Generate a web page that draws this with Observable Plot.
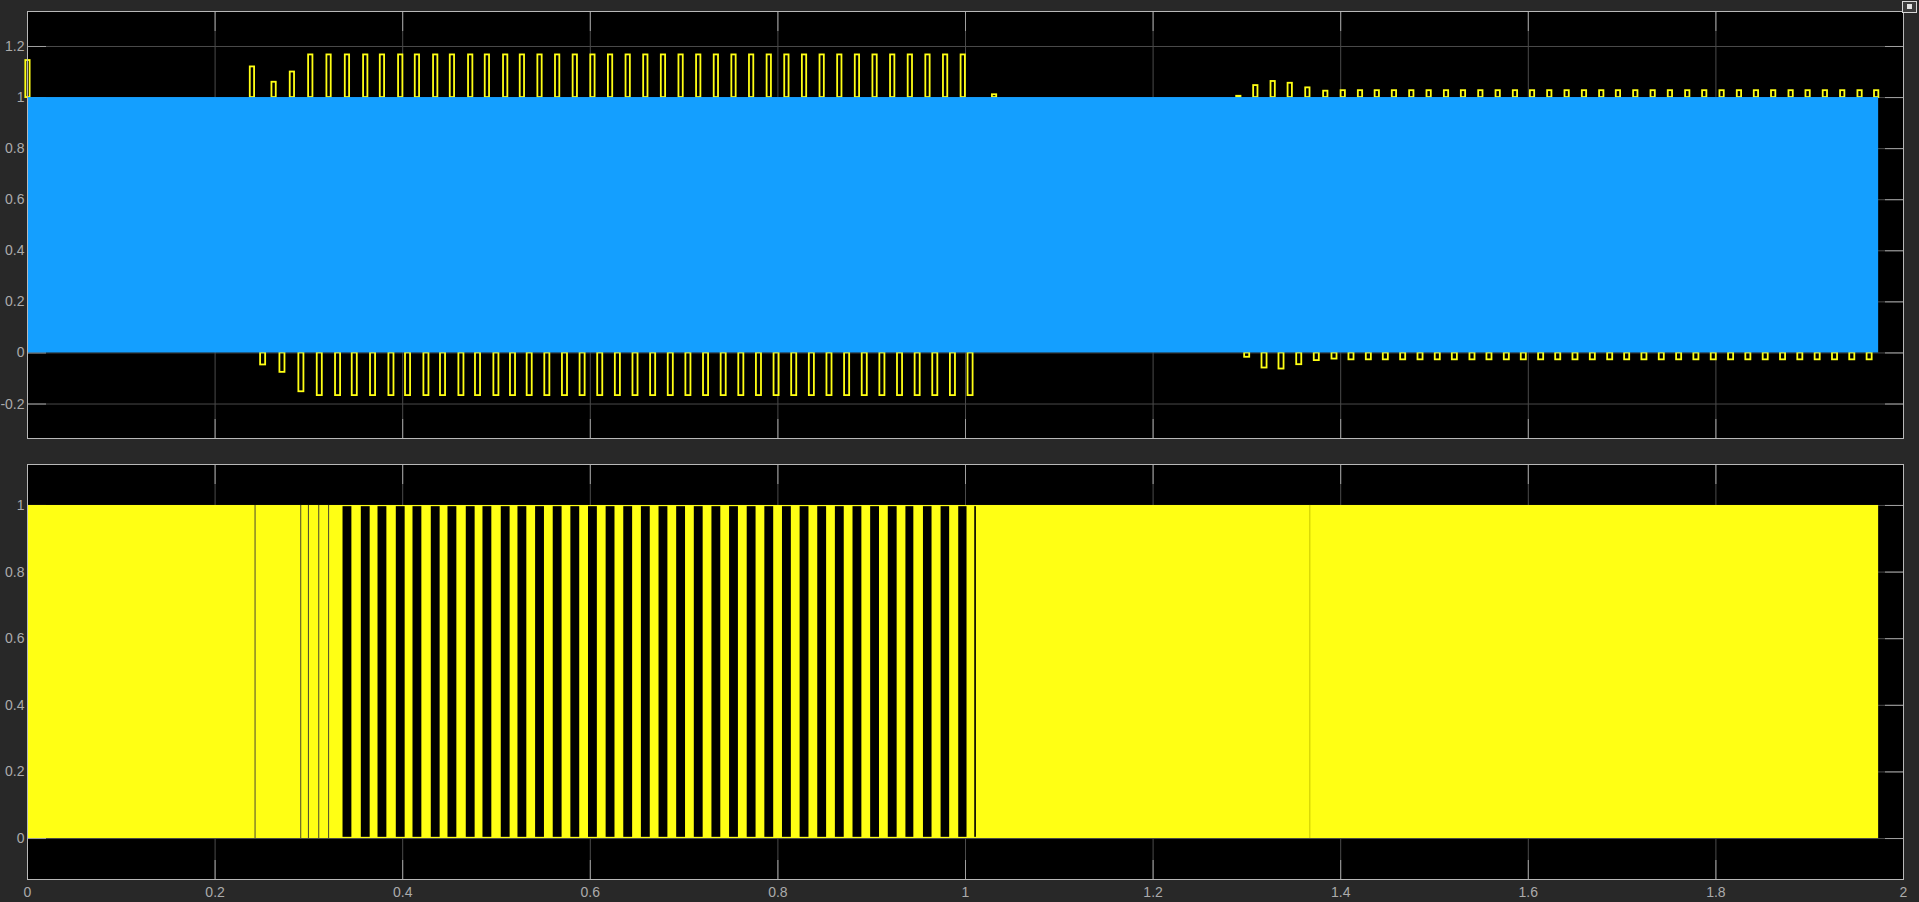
<!DOCTYPE html>
<html><head><meta charset="utf-8">
<script src="https://cdn.jsdelivr.net/npm/d3@7"></script>
<script src="https://cdn.jsdelivr.net/npm/@observablehq/plot@0.6"></script>
<style>
html,body{margin:0;padding:0;background:#282828;width:1919px;height:902px;overflow:hidden;}
#top,#bot{position:absolute;left:0;}
#top{top:0}
#bot{top:451px}
#btn{position:absolute;left:1902px;top:1px;width:13px;height:10px;border:1px solid #d8d8d8;background:#3c3c3c}
#btn:after{content:"";position:absolute;left:4px;top:2px;width:5px;height:5px;background:#e0e0e0}
</style></head><body>
<div id="top"></div><div id="bot"></div><div id="btn"></div>
<script>
// ---- axes ----
const xTicks = [0, 0.2, 0.4, 0.6, 0.8, 1, 1.2, 1.4, 1.6, 1.8, 2];
const topYTicks = [-0.2, 0, 0.2, 0.4, 0.6, 0.8, 1, 1.2];
const botYTicks = [0, 0.2, 0.4, 0.6, 0.8, 1];
const xDomain = [0, 2];
const topYDomain = [-0.335, 1.337];
const botYDomain = [-0.123, 1.123];

// ---- top panel: switching band (blue) ----
const bandStart = [0];
const bandEnd = [1.9735];
const bandLow = [0];
const bandHigh = [1];

// ---- top panel: yellow overshoots above 1 ----
const overTime = [0.0005, 0.2398, 0.2629, 0.2824, 0.3020, 0.3215, 0.3411, 0.3606, 0.3784, 0.3979,
  0.4157, 0.4352, 0.4530, 0.4725, 0.4903, 0.5098, 0.5276, 0.5464, 0.5652, 0.5840,
  0.6028, 0.6216, 0.6404, 0.6592, 0.6780, 0.6968, 0.7156, 0.7344, 0.7532, 0.7720,
  0.7908, 0.8096, 0.8284, 0.8472, 0.8660, 0.8848, 0.9036, 0.9224, 0.9412, 0.9600,
  0.9788, 0.9976, 1.0310,
  1.2914, 1.3095, 1.3280, 1.3462, 1.3650, 1.3841, 1.4027, 1.4211, 1.4390, 1.4573,
  1.4758, 1.4943, 1.5128, 1.5309, 1.5494, 1.5679, 1.5863, 1.6045, 1.6229, 1.6414,
  1.6599, 1.6783, 1.6961, 1.7146, 1.7331, 1.7515, 1.7700, 1.7881, 1.8066, 1.8251,
  1.8432, 1.8616, 1.8802, 1.8983, 1.9167, 1.9352, 1.9537, 1.9714];
const overPeak = [1.145, 1.12, 1.06, 1.10, 1.167, 1.167, 1.167, 1.167, 1.167, 1.167,
  1.167, 1.167, 1.167, 1.167, 1.167, 1.167, 1.167, 1.167, 1.167, 1.167,
  1.167, 1.167, 1.167, 1.167, 1.167, 1.167, 1.167, 1.167, 1.167, 1.167,
  1.167, 1.167, 1.167, 1.167, 1.167, 1.167, 1.167, 1.167, 1.167, 1.167,
  1.167, 1.167, 1.011,
  1.005, 1.047, 1.063, 1.056, 1.038, 1.025, 1.027, 1.027, 1.027, 1.027,
  1.027, 1.027, 1.027, 1.027, 1.027, 1.027, 1.027, 1.027, 1.027, 1.027,
  1.027, 1.027, 1.027, 1.027, 1.027, 1.027, 1.027, 1.027, 1.027, 1.027,
  1.027, 1.027, 1.027, 1.027, 1.027, 1.027, 1.027, 1.027];

// ---- top panel: yellow undershoots below 0 ----
const underTime = [0.2512, 0.2718, 0.2920, 0.3116, 0.3311, 0.3489, 0.3684, 0.3880, 0.4057, 0.4253,
  0.4430, 0.4626, 0.4803, 0.4999, 0.5176, 0.5354, 0.5542, 0.5730, 0.5918, 0.6106,
  0.6294, 0.6482, 0.6670, 0.6858, 0.7046, 0.7234, 0.7422, 0.7610, 0.7798, 0.7986,
  0.8174, 0.8362, 0.8550, 0.8738, 0.8926, 0.9114, 0.9302, 0.9490, 0.9678, 0.9866,
  1.0054,
  1.3003, 1.3188, 1.3369, 1.3558, 1.3745, 1.3934, 1.4115, 1.4300, 1.4481, 1.4666,
  1.4851, 1.5035, 1.5217, 1.5405, 1.5586, 1.5771, 1.5952, 1.6137, 1.6319, 1.6503,
  1.6688, 1.6873, 1.7054, 1.7238, 1.7423, 1.7608, 1.7792, 1.7977, 1.8162, 1.8346,
  1.8531, 1.8716, 1.8900, 1.9085, 1.9270, 1.9454, 1.9639];
const underDip = [-0.047, -0.076, -0.152, -0.167, -0.167, -0.167, -0.167, -0.167, -0.167, -0.167,
  -0.167, -0.167, -0.167, -0.167, -0.167, -0.167, -0.167, -0.167, -0.167, -0.167,
  -0.167, -0.167, -0.167, -0.167, -0.167, -0.167, -0.167, -0.167, -0.167, -0.167,
  -0.167, -0.167, -0.167, -0.167, -0.167, -0.167, -0.167, -0.167, -0.167, -0.167,
  -0.167,
  -0.017, -0.059, -0.063, -0.046, -0.030, -0.024, -0.027, -0.027, -0.027, -0.027,
  -0.027, -0.027, -0.027, -0.027, -0.027, -0.027, -0.027, -0.027, -0.027, -0.027,
  -0.027, -0.027, -0.027, -0.027, -0.027, -0.027, -0.027, -0.027, -0.027, -0.027,
  -0.027, -0.027, -0.027, -0.027, -0.027, -0.027, -0.027];

// ---- bottom panel: gate signal ----
const pulseStart = [0];
const pulseEnd = [1.9735];
const pulseLow = [0];
const pulseHigh = [1];
// intervals where the gate is held (black gaps)
const gapStart = [0.3351, 0.3546, 0.3724, 0.3919, 0.4097, 0.4292, 0.4470, 0.4665, 0.4843, 0.5038,
  0.5216, 0.5404, 0.5592, 0.5780, 0.5968, 0.6156, 0.6344, 0.6532, 0.6720, 0.6908,
  0.7096, 0.7284, 0.7472, 0.7660, 0.7848, 0.8036, 0.8224, 0.8412, 0.8600, 0.8788,
  0.8976, 0.9164, 0.9352, 0.9539, 0.9727, 0.9915, 1.0086];
const gapEnd = [0.3471, 0.3666, 0.3844, 0.4039, 0.4217, 0.4412, 0.4590, 0.4785, 0.4963, 0.5158,
  0.5336, 0.5524, 0.5712, 0.5900, 0.6088, 0.6276, 0.6464, 0.6652, 0.6840, 0.7028,
  0.7216, 0.7404, 0.7592, 0.7780, 0.7968, 0.8156, 0.8344, 0.8532, 0.8720, 0.8908,
  0.9096, 0.9284, 0.9462, 0.9656, 0.9844, 1.0029, 1.0129];
// single short switching events (thin lines)
const blipTime = [0.2426, 0.2913, 0.2995, 0.3105, 0.3210];
const faintTime = [1.3671];

// ---- styles ----
const YELLOW = "#ffff14";
const BLUE = "#149fff";
const GRID = "#4a4a4a";
const TICK = "#a0a0a0";
const FRAME = "#b8b8b8";
const LABEL = "#ababab";
const FONT = "'Liberation Sans', Arial, sans-serif";
const OVER_W = 0.0046, UNDER_W = 0.0054;

const idx = a => a.map((_, i) => i);

function frameMarks(yTicks, showX) {
  const m = [
    Plot.gridX(xTicks, {stroke: GRID, strokeOpacity: 1}),
    Plot.gridY(yTicks, {stroke: GRID, strokeOpacity: 1}),
    Plot.axisX(xTicks, {anchor: "bottom", tickSize: -19, stroke: TICK, tickFormat: () => "", label: null}),
    Plot.axisX(xTicks, {anchor: "top", tickSize: -19, stroke: TICK, tickFormat: () => "", label: null}),
    Plot.axisY(yTicks, {anchor: "left", tickSize: -19, stroke: TICK, tickFormat: () => "", label: null}),
    Plot.axisY(yTicks, {anchor: "right", tickSize: -19, stroke: TICK, tickFormat: () => "", label: null}),
    Plot.axisY(yTicks, {anchor: "left", tickSize: 0, tickPadding: 3, fill: LABEL, fontSize: 14, tickFormat: d => String(d), label: null})
  ];
  if (showX) m.push(Plot.axisX(xTicks, {anchor: "bottom", tickSize: 0, tickPadding: 8, fill: LABEL, fontSize: 14, tickFormat: d => String(d), label: null}));
  return m;
}

const topPlot = Plot.plot({
  width: 1919, height: 451,
  marginLeft: 27, marginRight: 16, marginTop: 11, marginBottom: 13,
  x: {domain: xDomain, axis: null},
  y: {domain: topYDomain, axis: null},
  style: {background: "#000", color: LABEL, fontFamily: FONT, fontSize: "14px", overflow: "visible"},
  marks: [
    ...frameMarks(topYTicks, false),
    Plot.rect(idx(overTime), {x1: i => overTime[i] - OVER_W / 2, x2: i => overTime[i] + OVER_W / 2,
      y1: () => 1, y2: i => overPeak[i], fill: "none", stroke: YELLOW, strokeWidth: 1.8}),
    Plot.rect(idx(underTime), {x1: i => underTime[i] - UNDER_W / 2, x2: i => underTime[i] + UNDER_W / 2,
      y1: () => 0, y2: i => underDip[i], fill: "none", stroke: YELLOW, strokeWidth: 1.8}),
    Plot.rect(idx(bandStart), {x1: i => bandStart[i], x2: i => bandEnd[i], y1: i => bandLow[i], y2: i => bandHigh[i], fill: BLUE}),
    Plot.frame({stroke: FRAME})
  ]
});

const botPlot = Plot.plot({
  width: 1919, height: 451,
  marginLeft: 27, marginRight: 16, marginTop: 13, marginBottom: 23,
  x: {domain: xDomain, axis: null},
  y: {domain: botYDomain, axis: null},
  style: {background: "#000", color: LABEL, fontFamily: FONT, fontSize: "14px", overflow: "visible"},
  marks: [
    ...frameMarks(botYTicks, true),
    Plot.rect(idx(pulseStart), {x1: i => pulseStart[i], x2: i => pulseEnd[i], y1: i => pulseLow[i], y2: i => pulseHigh[i], fill: YELLOW}),
    Plot.rect(idx(gapStart), {x1: i => gapStart[i], x2: i => gapEnd[i], y1: () => 0, y2: () => 1,
      fill: "#000", inset: 1.2}),
    Plot.ruleX(blipTime, {y1: 0, y2: 1, stroke: "#4a4a30", strokeWidth: 1}),
    Plot.ruleX(faintTime, {y1: 0, y2: 1, stroke: "#c8c800", strokeWidth: 1}),
    Plot.frame({stroke: FRAME})
  ]
});

for (const [svg, mt, mb] of [[topPlot, 11, 13], [botPlot, 13, 23]]) {
  svg.style.background = "transparent";
  const ns = "http://www.w3.org/2000/svg";
  const r = document.createElementNS(ns, "rect");
  r.setAttribute("x", 27); r.setAttribute("y", mt);
  r.setAttribute("width", 1919 - 27 - 16); r.setAttribute("height", 451 - mt - mb);
  r.setAttribute("fill", "#000");
  svg.insertBefore(r, svg.firstChild.nextSibling);
}
document.getElementById("top").appendChild(topPlot);
document.getElementById("bot").appendChild(botPlot);
</script>
</body></html>
